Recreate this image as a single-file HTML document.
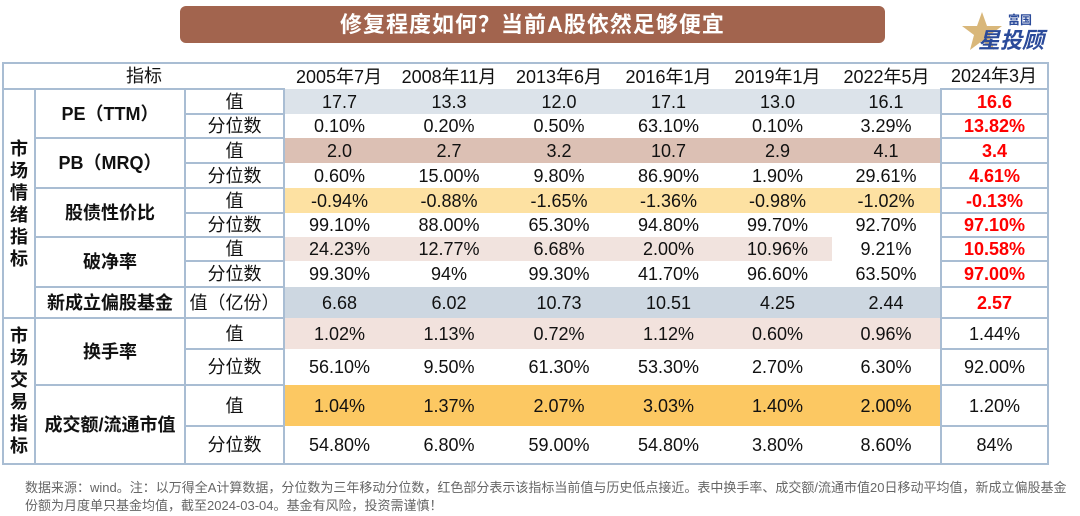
<!DOCTYPE html>
<html><head><meta charset="utf-8"><style>
body{margin:0;width:1080px;height:516px;background:#fff;position:relative;overflow:hidden;font-family:"Liberation Sans","Noto Sans CJK SC",sans-serif;}
.title{position:absolute;left:180px;top:6px;width:705px;height:37px;background:#a2644e;border-radius:6px;color:#fff;font-weight:bold;font-size:22px;line-height:37px;text-align:center;letter-spacing:1px}
table{position:absolute;left:2px;top:62px;border-collapse:collapse;table-layout:fixed;font-size:18px;color:#111}
td{padding:0;text-align:center;white-space:nowrap;overflow:hidden;line-height:1}
.b{border:2px solid #a9bdd3}
.lb{font-weight:bold}
.r{color:#f00;font-weight:bold}
.v{font-weight:bold;font-size:18px;line-height:22px;white-space:normal;background:#fff}
.foot{position:absolute;left:25px;top:479px;font-size:13px;color:#666;line-height:18px;white-space:nowrap}
.logo{position:absolute;left:960px;top:8px;width:90px;height:48px}
</style></head><body>
<div class="title">修复程度如何？当前A股依然足够便宜</div>
<svg class="logo" viewBox="0 0 90 48"><polygon points="22,4 27,18 42,18 30,27 34,42 22,33 10,42 14,27 2,18 17,18" fill="#d9b77a"/><text x="48" y="16" font-size="12" font-weight="bold" fill="#2a4a9a" font-family="Noto Sans CJK SC,sans-serif">富国</text><text x="18" y="40" font-size="22" font-weight="bold" font-style="italic" fill="#2a4a9a" font-family="Noto Sans CJK SC,sans-serif">星投顾</text></svg>
<table>
<colgroup><col style="width:32px"><col style="width:150px"><col style="width:99px"><col style="width:110px"><col style="width:110px"><col style="width:110px"><col style="width:109px"><col style="width:109px"><col style="width:109px"><col style="width:107px"></colgroup>
<tr style="height:26px"><td colspan="3" class="b" style="border-right:none">指标</td><td style="border-top:2px solid #a9bdd3">2005年7月</td><td style="border-top:2px solid #a9bdd3">2008年11月</td><td style="border-top:2px solid #a9bdd3">2013年6月</td><td style="border-top:2px solid #a9bdd3">2016年1月</td><td style="border-top:2px solid #a9bdd3">2019年1月</td><td style="border-top:2px solid #a9bdd3">2022年5月</td><td class="b" style="border-left:none">2024年3月</td></tr>
<tr style="height:25px;background:#dce3ea"><td rowspan="9" class="b v">市<br>场<br>情<br>绪<br>指<br>标</td><td rowspan="2" class="b lb" style="background:#fff">PE（TTM）</td><td class="b" style="background:#fff">值</td><td>17.7</td><td>13.3</td><td>12.0</td><td>17.1</td><td>13.0</td><td>16.1</td><td class="b r" style="background:#fff">16.6</td></tr>
<tr style="height:24px"><td class="b">分位数</td><td>0.10%</td><td>0.20%</td><td>0.50%</td><td>63.10%</td><td>0.10%</td><td>3.29%</td><td class="b r">13.82%</td></tr>
<tr style="height:25px;background:#dcc0b4"><td rowspan="2" class="b lb" style="background:#fff">PB（MRQ）</td><td class="b" style="background:#fff">值</td><td>2.0</td><td>2.7</td><td>3.2</td><td>10.7</td><td>2.9</td><td>4.1</td><td class="b r" style="background:#fff">3.4</td></tr>
<tr style="height:25px"><td class="b">分位数</td><td>0.60%</td><td>15.00%</td><td>9.80%</td><td>86.90%</td><td>1.90%</td><td>29.61%</td><td class="b r">4.61%</td></tr>
<tr style="height:25px;background:#fde1a2"><td rowspan="2" class="b lb" style="background:#fff">股债性价比</td><td class="b" style="background:#fff">值</td><td>-0.94%</td><td>-0.88%</td><td>-1.65%</td><td>-1.36%</td><td>-0.98%</td><td>-1.02%</td><td class="b r" style="background:#fff">-0.13%</td></tr>
<tr style="height:24px"><td class="b">分位数</td><td>99.10%</td><td>88.00%</td><td>65.30%</td><td>94.80%</td><td>99.70%</td><td>92.70%</td><td class="b r">97.10%</td></tr>
<tr style="height:24px"><td rowspan="2" class="b lb">破净率</td><td class="b">值</td><td style="background:#f1e3de">24.23%</td><td style="background:#f1e3de">12.77%</td><td style="background:#f1e3de">6.68%</td><td style="background:#f1e3de">2.00%</td><td style="background:#f1e3de">10.96%</td><td>9.21%</td><td class="b r">10.58%</td></tr>
<tr style="height:26px"><td class="b">分位数</td><td>99.30%</td><td>94%</td><td>99.30%</td><td>41.70%</td><td>96.60%</td><td>63.50%</td><td class="b r">97.00%</td></tr>
<tr style="height:31px;background:#cdd7e1"><td class="b lb" style="background:#fff">新成立偏股基金</td><td class="b" style="background:#fff">值（亿份）</td><td>6.68</td><td>6.02</td><td>10.73</td><td>10.51</td><td>4.25</td><td>2.44</td><td class="b r" style="background:#fff">2.57</td></tr>
<tr style="height:31px;background:#f2e2dd"><td rowspan="4" class="b v">市<br>场<br>交<br>易<br>指<br>标</td><td rowspan="2" class="b lb" style="background:#fff">换手率</td><td class="b" style="background:#fff">值</td><td>1.02%</td><td>1.13%</td><td>0.72%</td><td>1.12%</td><td>0.60%</td><td>0.96%</td><td class="b" style="background:#fff">1.44%</td></tr>
<tr style="height:36px"><td class="b">分位数</td><td>56.10%</td><td>9.50%</td><td>61.30%</td><td>53.30%</td><td>2.70%</td><td>6.30%</td><td class="b">92.00%</td></tr>
<tr style="height:41px;background:#fcc862"><td rowspan="2" class="b lb" style="background:#fff">成交额/流通市值</td><td class="b" style="background:#fff">值</td><td>1.04%</td><td>1.37%</td><td>2.07%</td><td>3.03%</td><td>1.40%</td><td>2.00%</td><td class="b" style="background:#fff">1.20%</td></tr>
<tr style="height:38px"><td class="b">分位数</td><td style="border-bottom:2px solid #a9bdd3">54.80%</td><td style="border-bottom:2px solid #a9bdd3">6.80%</td><td style="border-bottom:2px solid #a9bdd3">59.00%</td><td style="border-bottom:2px solid #a9bdd3">54.80%</td><td style="border-bottom:2px solid #a9bdd3">3.80%</td><td style="border-bottom:2px solid #a9bdd3">8.60%</td><td class="b">84%</td></tr>
</table>
<div class="foot">数据来源：wind。注：以万得全A计算数据，分位数为三年移动分位数，红色部分表示该指标当前值与历史低点接近。表中换手率、成交额/流通市值20日移动平均值，新成立偏股基金<br>份额为月度单只基金均值，截至2024-03-04。基金有风险，投资需谨慎！</div>
</body></html>
